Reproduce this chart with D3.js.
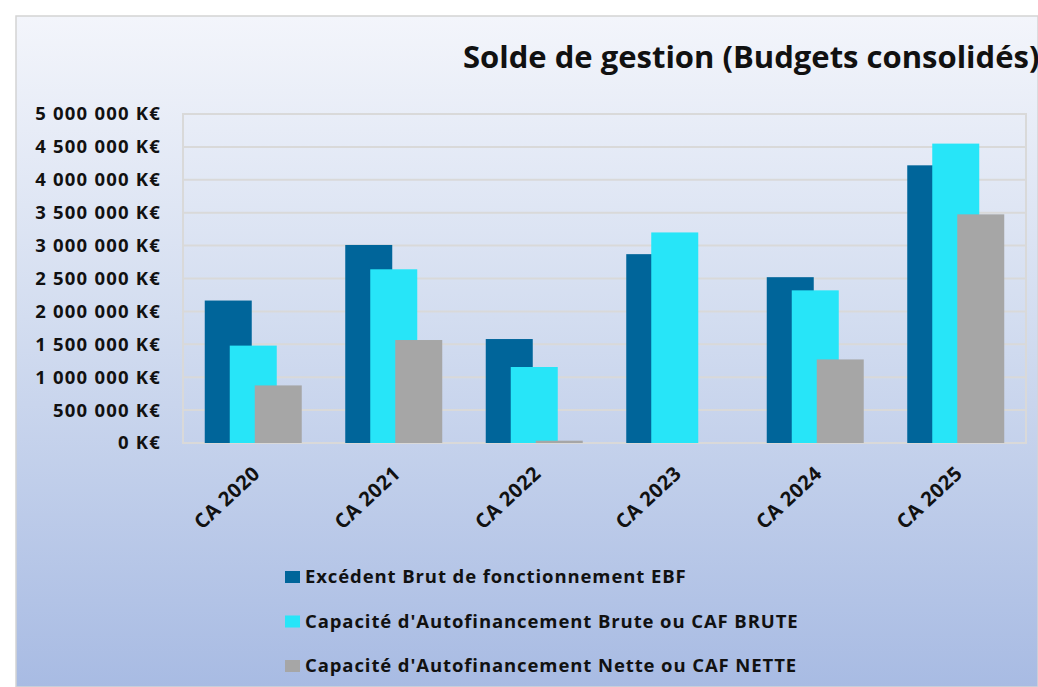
<!DOCTYPE html>
<html>
<head>
<meta charset="utf-8">
<script src="https://cdn.jsdelivr.net/npm/d3@7"></script>
<style>
  body { margin: 0; background: #fff; }
  text { font-family: "Open Sans", Lato, sans-serif; font-weight: bold; fill: #111; }
</style>
</head>
<body>
<div id="chart"></div>
<script>
var categories = ["CA 2020", "CA 2021", "CA 2022", "CA 2023", "CA 2024", "CA 2025"];
var seriesNames = [
  "Excédent Brut de fonctionnement EBF",
  "Capacité d'Autofinancement Brute ou CAF BRUTE",
  "Capacité d'Autofinancement Nette ou CAF NETTE"
];
var ebf = [2165000, 3010000, 1580000, 2870000, 2520000, 4220000];
var cafBrute = [1480000, 2640000, 1155000, 3200000, 2320000, 4550000];
var cafNette = [875000, 1565000, 35000, 0, 1270000, 3475000];
var yTicks = [0, 500000, 1000000, 1500000, 2000000, 2500000, 3000000, 3500000, 4000000, 4500000, 5000000];
var colors = ["#00659a", "#27e5f8", "#a6a6a6"];

var width = 1038, height = 687;
var plot = { left: 183, top: 114, right: 1026, bottom: 443 };

var svg = d3.select('#chart').append('svg')
  .attr('width', width)
  .attr('height', height);

var grad = svg.append('defs').append('linearGradient')
  .attr('id', 'bg').attr('x1', 0).attr('y1', 0).attr('x2', 0).attr('y2', 1);
grad.append('stop').attr('offset', '0%').attr('stop-color', '#f3f5fb');
grad.append('stop').attr('offset', '45%').attr('stop-color', '#d3ddf0');
grad.append('stop').attr('offset', '100%').attr('stop-color', '#a8bbe3');

svg.append('rect')
  .attr('x', 16).attr('y', 16)
  .attr('width', width - 16).attr('height', height - 16)
  .attr('fill', 'url(#bg)')
  .attr('stroke', '#d4d4d4').attr('stroke-width', 1.5);

svg.append('text')
  .attr('x', 463).attr('y', 68)
  .style('font-size', '31px')
  .text('Solde de gestion (Budgets consolidés)');

var x = d3.scaleBand().domain(categories).range([plot.left, plot.right]);
var y = d3.scaleLinear().domain([0, 5000000]).range([plot.bottom, plot.top]);

// grid
svg.append('g').selectAll('line').data(yTicks).enter().append('line')
  .attr('x1', plot.left).attr('x2', plot.right)
  .attr('y1', d => y(d)).attr('y2', d => y(d))
  .attr('stroke', '#d9d9d9').attr('stroke-width', 2);

svg.append('rect')
  .attr('x', plot.left).attr('y', plot.top)
  .attr('width', plot.right - plot.left).attr('height', plot.bottom - plot.top)
  .attr('fill', 'none').attr('stroke', '#d9d9d9').attr('stroke-width', 2);

// y axis labels
var fmt = function (d) {
  return d3.format(',')(d).replace(/,/g, ' ') + ' K€';
};
var yAxis = d3.axisLeft(y).tickValues(yTicks).tickSize(0).tickPadding(22).tickFormat(fmt);
var yg = svg.append('g').attr('transform', 'translate(' + plot.left + ',0)').call(yAxis);
yg.select('.domain').remove();
yg.selectAll('text')
  .style('font-size', '18.5px')
  .style('font-family', '"Open Sans", sans-serif')
  .style('letter-spacing', '1.2px')
  .attr('fill', '#111');

// bars
var barW = 47, step = 25;
var series = [ebf, cafBrute, cafNette];
series.forEach(function (vals, s) {
  svg.append('g').selectAll('rect').data(vals).enter().append('rect')
    .attr('x', (d, i) => x(categories[i]) + x.bandwidth() / 2 - barW / 2 + (s - 1) * step)
    .attr('y', d => y(d))
    .attr('width', barW)
    .attr('height', d => y(0) - y(d))
    .attr('fill', colors[s]);
});

// x labels
svg.append('g').selectAll('text').data(categories).enter().append('text')
  .attr('transform', d => 'translate(' + (x(d) + x.bandwidth() / 2 + 8) + ',475) rotate(-43)')
  .attr('text-anchor', 'end')
  .style('font-size', '20px')
  .style('letter-spacing', '0.5px')
  .text(d => d);

// legend
var legend = svg.append('g').selectAll('g').data(seriesNames).enter().append('g')
  .attr('transform', (d, i) => 'translate(285,' + (583 + i * 44.5) + ')');
legend.append('rect')
  .attr('x', 0).attr('y', -12).attr('width', 15).attr('height', 12)
  .attr('fill', (d, i) => colors[i]);
legend.append('text')
  .attr('x', 20).attr('y', 0)
  .style('font-size', '18.5px')
  .style('letter-spacing', '0.9px')
  .text(d => d);
</script>
</body>
</html>
